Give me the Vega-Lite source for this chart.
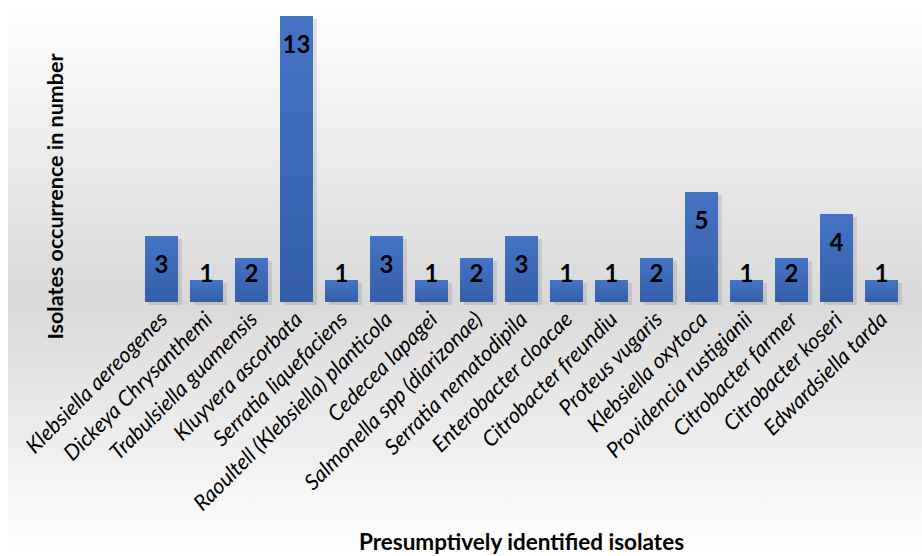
{
  "$schema": "https://vega.github.io/schema/vega-lite/v6.json",
  "width": 914,
  "height": 556,
  "padding": {"left": 8, "top": 0, "right": 0, "bottom": 0},
  "autosize": {"type": "none"},
  "background": "white",
  "view": {
    "stroke": null,
    "fill": {
      "gradient": "linear",
      "x1": 0, "y1": 0, "x2": 0, "y2": 1,
      "stops": [
        {"offset": 0, "color": "#ffffff"},
        {"offset": 0.54, "color": "#d9d9d9"},
        {"offset": 1, "color": "#ffffff"}
      ]
    }
  },
  "data": {
    "values": [
      {"isolate": "Klebsiella aereogenes", "count": 3},
      {"isolate": "Dickeya Chrysanthemi", "count": 1},
      {"isolate": "Trabulsiella guamensis", "count": 2},
      {"isolate": "Kluyvera ascorbata", "count": 13},
      {"isolate": "Serratia liquefaciens", "count": 1},
      {"isolate": "Raoultell (Klebsiella) planticola", "count": 3},
      {"isolate": "Cedecea lapagei", "count": 1},
      {"isolate": "Salmonella spp (diarizonae)", "count": 2},
      {"isolate": "Serratia nematodipila", "count": 3},
      {"isolate": "Enterobacter cloacae", "count": 1},
      {"isolate": "Citrobacter freundiu", "count": 1},
      {"isolate": "Proteus vugaris", "count": 2},
      {"isolate": "Klebsiella oxytoca", "count": 5},
      {"isolate": "Providencia rustigianii", "count": 1},
      {"isolate": "Citrobacter farmer", "count": 2},
      {"isolate": "Citrobacter koseri", "count": 4},
      {"isolate": "Edwardsiella tarda", "count": 1}
    ]
  },
  "encoding": {
    "x": {
      "field": "isolate",
      "type": "nominal",
      "sort": null,
      "scale": {"range": [131, 896], "paddingInner": 0.2667, "paddingOuter": 0.1333},
      "axis": {
        "orient": "bottom",
        "offset": -254,
        "domain": false,
        "ticks": false,
        "grid": false,
        "labelAngle": -45,
        "labelAlign": "right",
        "labelBaseline": "middle",
        "labelPadding": 14,
        "labelOffset": 3,
        "labelFont": "Lato",
        "labelFontStyle": "italic",
        "labelFontSize": 21.5,
        "labelColor": "#000000",
        "labelLimit": 0,
        "labelOverlap": false,
        "title": "Presumptively identified isolates",
        "titleFont": "Lato",
        "titleFontWeight": "bold",
        "titleFontSize": 22.5,
        "titleColor": "#000000",
        "titleAlign": "center",
        "titleBaseline": "alphabetic",
        "titleX": 513,
        "titleY": 247
      }
    },
    "y": {
      "field": "count",
      "type": "quantitative",
      "scale": {"domain": [-11.545, 13.727], "nice": false, "zero": false},
      "axis": {
        "orient": "left",
        "domain": false,
        "ticks": false,
        "labels": false,
        "grid": false,
        "title": "Isolates occurrence in number",
        "titleFont": "Lato",
        "titleFontWeight": "bold",
        "titleFontSize": 21.5,
        "titleColor": "#000000",
        "titleAngle": -90,
        "titleAlign": "center",
        "titleBaseline": "alphabetic",
        "titleX": 54,
        "titleY": 196
      }
    }
  },
  "layer": [
    {
      "mark": {"type": "bar", "color": "#000000", "opacity": 0.1, "xOffset": 4, "x2Offset": 4, "yOffset": 3, "y2Offset": 4}
    },
    {
      "mark": {
        "type": "bar",
        "color": {
          "gradient": "linear",
          "x1": 0, "y1": 0, "x2": 0, "y2": 1,
          "stops": [
            {"offset": 0, "color": "#4574c6"},
            {"offset": 1, "color": "#345ea8"}
          ]
        }
      }
    },
    {
      "transform": [{"filter": "datum.count >= 3"}],
      "mark": {"type": "text", "font": "Lato", "fontWeight": "bold", "fontSize": 24, "color": "#000000", "baseline": "middle", "dy": 30},
      "encoding": {
        "text": {"field": "count", "type": "quantitative"}
      }
    },
    {
      "transform": [{"filter": "datum.count < 3"}],
      "mark": {"type": "text", "font": "Lato", "fontWeight": "bold", "fontSize": 24, "color": "#000000", "baseline": "middle"},
      "encoding": {
        "y": {"datum": 1.23, "type": "quantitative"},
        "text": {"field": "count", "type": "quantitative"}
      }
    }
  ]
}
